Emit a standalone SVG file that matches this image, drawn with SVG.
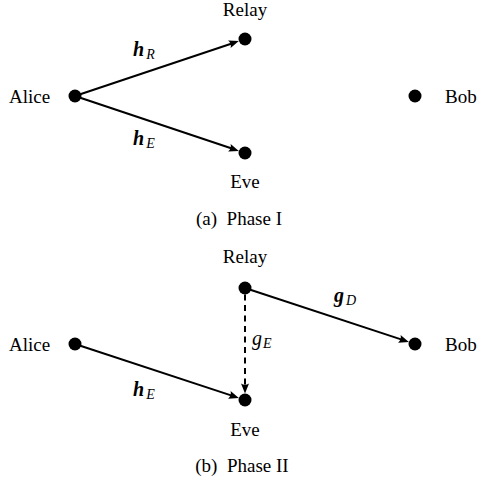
<svg xmlns="http://www.w3.org/2000/svg" width="478" height="484" viewBox="0 0 478 484">
<style>
text{font-family:"Liberation Serif",Tinos,"Times New Roman","DejaVu Serif",serif;fill:#000}
.lbl{font-size:19px}
.mb{font-size:20px;font-weight:bold;font-style:italic}
.mi{font-size:20px;font-style:italic}
.sub{font-size:14px;font-style:italic;font-weight:normal}
.dot{fill:#000}
.edge{stroke:#000;stroke-width:2;fill:none}
.dash{stroke-dasharray:6,4.5}
</style>
<defs>
<marker id="arr" markerUnits="userSpaceOnUse" markerWidth="14" markerHeight="10" viewBox="-11 -5 14 10" refX="-5" refY="0" orient="auto">
<path d="M0,0 L-10,-4 Q-7.5,0 -10,4 Z" fill="#000"/>
</marker>
</defs>
<rect width="478" height="484" fill="#fff"/>
<g id="connectors">
<line class="edge" x1="75" y1="96" x2="234.1" y2="42.7" marker-end="url(#arr)"/>
<line class="edge" x1="75" y1="96" x2="234.1" y2="149.3" marker-end="url(#arr)"/>
<line class="edge" x1="75" y1="344" x2="234.1" y2="396.4" marker-end="url(#arr)"/>
<line class="edge" x1="245" y1="288" x2="404.1" y2="340.4" marker-end="url(#arr)"/>
<line class="edge dash" x1="245" y1="294.5" x2="245" y2="388.5" marker-end="url(#arr)"/>
<text class="mb" x="133" y="56">h<tspan class="sub" dx="2" dy="3">R</tspan></text>
<text class="mb" x="133" y="145">h<tspan class="sub" dx="2" dy="3">E</tspan></text>
<text class="mb" x="133" y="396">h<tspan class="sub" dx="2" dy="3">E</tspan></text>
<text class="mb" x="334" y="302">g<tspan class="sub" dx="2" dy="3">D</tspan></text>
<text class="mi" x="252" y="345">g<tspan class="sub" dx="1" dy="3">E</tspan></text>
</g>
<g id="phase1">
<g id="alice1"><circle class="dot" cx="75" cy="96" r="6.5"/><text class="lbl" x="9" y="102.7">Alice</text></g>
<g id="relay1"><circle class="dot" cx="245" cy="39" r="6.5"/><text class="lbl" x="245" y="16" text-anchor="middle">Relay</text></g>
<g id="eve1"><circle class="dot" cx="245" cy="153" r="6.5"/><text class="lbl" x="245" y="188" text-anchor="middle">Eve</text></g>
<g id="bob1"><circle class="dot" cx="415" cy="96" r="6.5"/><text class="lbl" x="445" y="102.7">Bob</text></g>
<text class="lbl" x="239" y="225" text-anchor="middle" xml:space="preserve">(a)  Phase I</text>
</g>
<g id="phase2">
<g id="alice2"><circle class="dot" cx="75" cy="344" r="6.5"/><text class="lbl" x="9" y="350.7">Alice</text></g>
<g id="relay2"><circle class="dot" cx="245" cy="288" r="6.5"/><text class="lbl" x="245" y="263" text-anchor="middle">Relay</text></g>
<g id="eve2"><circle class="dot" cx="245" cy="400" r="6.5"/><text class="lbl" x="245" y="436" text-anchor="middle">Eve</text></g>
<g id="bob2"><circle class="dot" cx="415" cy="344" r="6.5"/><text class="lbl" x="445" y="350.7">Bob</text></g>
<text class="lbl" x="242" y="472" text-anchor="middle" xml:space="preserve">(b)  Phase II</text>
</g>
</svg>
